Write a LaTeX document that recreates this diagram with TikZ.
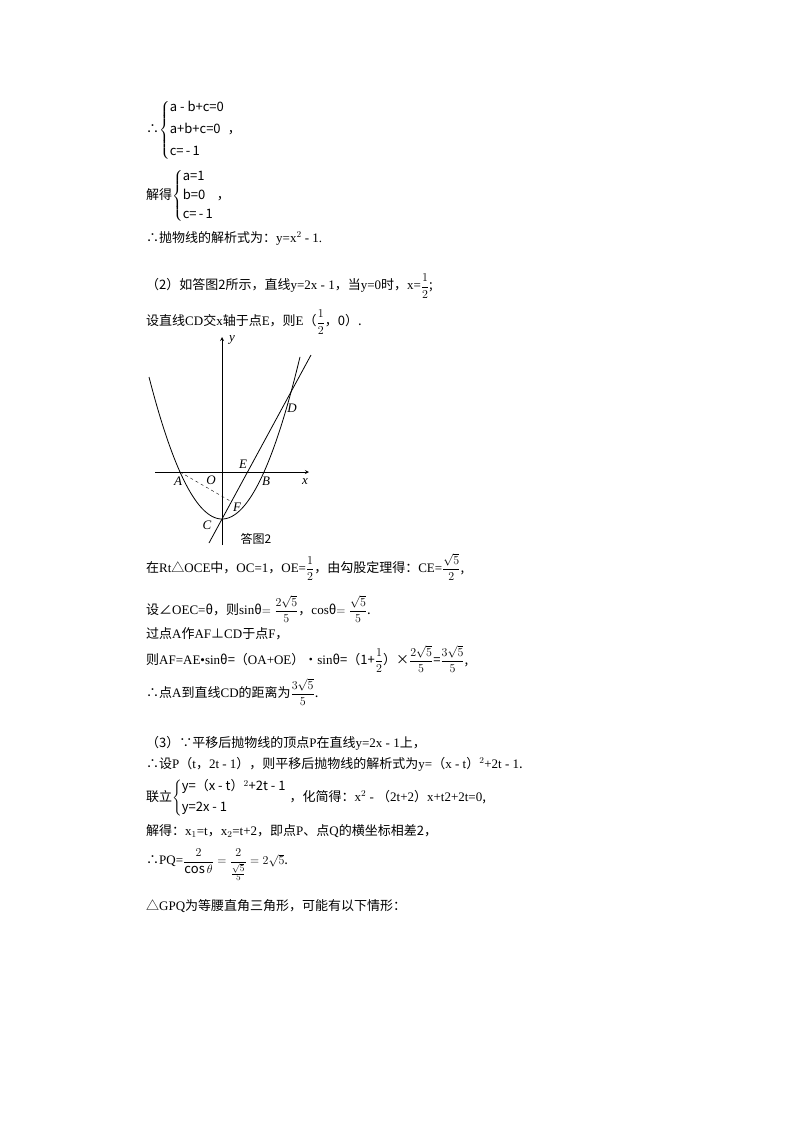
\documentclass[tikz,border=0pt]{standalone}
\usepackage{fontspec}
\usepackage{amsmath}
\setmainfont{Noto Sans CJK SC}
\newfontfamily\lat{Liberation Serif}
\tikzset{tx/.style={anchor=west,inner sep=0pt,font=\fontsize{13}{15}\selectfont},
  crv/.style={line width=0.8pt}, lbl/.style={inner sep=0pt,font=\lat\itshape\fontsize{13}{15}\selectfont}}
\begin{document}
\begin{tikzpicture}[x=1pt,y=-1pt]
\useasboundingbox (0,0) rectangle (800,1132);
\node[tx] (s1) at (146,130) {∴$\left\{\begin{array}{@{}l@{}}\text{a - b+c=0}\\[7pt]\text{a+b+c=0}\\[7pt]\text{c=\,-\,1}\end{array}\right.$ ，};
\node[tx] (s2) at (146,196) {解得$\left\{\begin{array}{@{}l@{}}\text{a=1}\\[4pt]\text{b=0}\\[4pt]\text{c=\,-\,1}\end{array}\right.$ ，};
\node[tx] (l1) at (146,238) {∴抛物线的解析式为：{\lat y=x$^2$ - 1.}};
\node[tx] (l2) at (146,286) {（2）如答图2所示，直线{\lat y=2x - 1}，当{\lat y=0}时，{\lat x=}$\dfrac{1}{2}$;};
\node[tx] (l3) at (146,322) {设直线{\lat CD}交{\lat x}轴于点{\lat E}，则{\lat E}（$\dfrac{1}{2}$，0）.};
% figure
\draw[crv,-stealth] (155,472) -- (309,472);
\draw[crv,-stealth] (222,545) -- (222,337);
\node[lbl] (yl) at (232,340) {y};
\node[lbl] (xl) at (305,482) {x};
\draw[crv,domain=149:300,samples=80] plot (\x,{519-47*((\x-222)/42)^2});
\draw[crv] (209,543) -- (311,355);
\coordinate (A) at (180,472);
\coordinate (F) at (232,502);
\draw[dashed,thin] (A) -- (F);
\foreach \n/\p in {A/{(178,481)},O/{(211,480)},E/{(243,464)},B/{(266,481)},D/{(292,408)},F/{(237,507)},C/{(207,525)}}
  \node[lbl] at \p {\n};
\node[inner sep=0pt,font=\fontsize{12}{14}\selectfont] (cap) at (256,539) {答图2};
\node[tx] (l4) at (146,567) {在{\lat Rt}△{\lat OCE}中，{\lat OC=1}，{\lat OE=}$\dfrac{1}{2}$，由勾股定理得：{\lat CE=}$\dfrac{\sqrt5}{2}$,};
\node[tx] (l5) at (146,609) {设∠{\lat OEC=}θ，则{\lat sin}θ$=\dfrac{2\sqrt5}{5}$，{\lat cos}θ$=\dfrac{\sqrt5}{5}$.};
\node[tx] (l6) at (146,634) {过点{\lat A}作{\lat AF}⊥{\lat CD}于点{\lat F}，};
\node[tx] (l7) at (146,659) {则{\lat AF=AE•sin}θ=（{\lat OA+OE}）•{\lat sin}θ=（1+$\dfrac12$）×$\dfrac{2\sqrt5}{5}$=$\dfrac{3\sqrt5}{5}$,};
\node[tx] (l8) at (146,692) {∴点{\lat A}到直线{\lat CD}的距离为$\dfrac{3\sqrt5}{5}$.};
\node[tx] (l9) at (146,743) {（3）∵平移后抛物线的顶点{\lat P}在直线{\lat y=2x - 1}上，};
\node[tx] (l10) at (146,764) {∴设{\lat P}（{\lat t}，{\lat 2t - 1}），则平移后抛物线的解析式为{\lat y=}（{\lat x - t}）$^2${\lat +2t - 1}.};
\node[tx] (l11) at (146,798) {联立$\left\{\begin{array}{@{}l@{}}\text{y=（x - t）$^2$+2t - 1}\\[6pt]\text{y=2x - 1}\end{array}\right.$ ，化简得：{\lat x$^2$ - }（{\lat 2t+2}）{\lat x+t2+2t=0},};
\node[tx] (l12) at (146,831) {解得：{\lat x$_1$=t}，{\lat x$_2$=t+2}，即点{\lat P}、点{\lat Q}的横坐标相差2，};
\node[tx] (l13) at (146,865) {∴{\lat PQ=}$\dfrac{2}{\cos\theta}=\dfrac{2}{\frac{\sqrt5}{5}}=2\sqrt5$.};
\node[tx] (l14) at (146,906) {△{\lat GPQ}为等腰直角三角形，可能有以下情形：};
\end{tikzpicture}
\end{document}
